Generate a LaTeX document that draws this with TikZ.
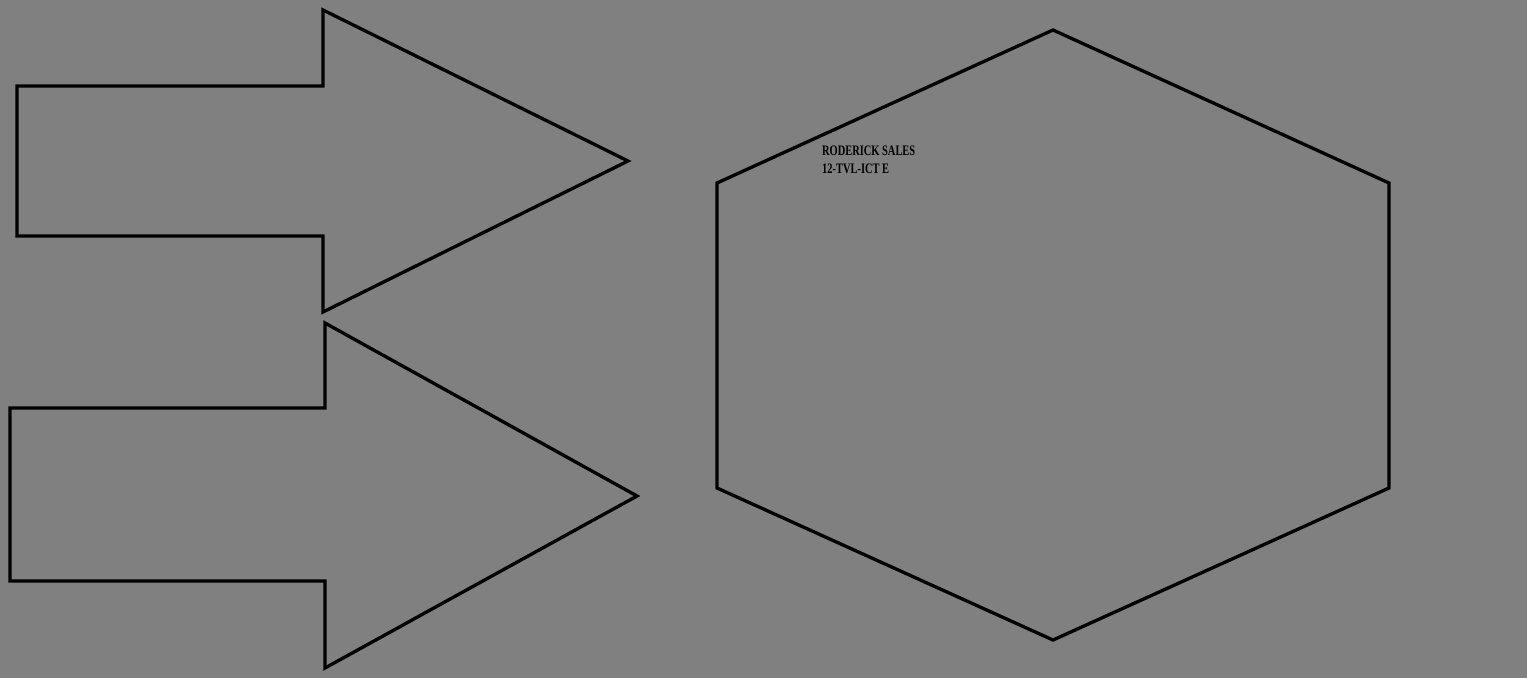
\documentclass[tikz,border=0pt]{standalone}
\usepackage{fontspec}
\setmainfont{Liberation Serif}
\definecolor{bg}{RGB}{128,128,128}
\begin{document}
\begin{tikzpicture}[x=1pt,y=-1pt,
  outline/.style={draw=black,line width=3.3pt,line join=miter},
  lbl/.style={anchor=west,inner sep=0pt,font=\bfseries\fontsize{14.5}{16}\selectfont,xscale=0.72}]
\fill[bg] (0,0) rectangle (1527,678);
\useasboundingbox (0,0) rectangle (1527,678);
\draw[outline] (17,86) -- (323,86) -- (323,10) -- (628,161) -- (323,312) -- (323,236) -- (17,236) -- cycle;
\draw[outline] (10,408) -- (325,408) -- (325,323) -- (637,496) -- (325,668) -- (325,581) -- (10,581) -- cycle;
\draw[outline] (1053,30) -- (1389,183) -- (1389,488) -- (1053,640) -- (717,488) -- (717,183) -- cycle;
\node[lbl] (t1) at (822,151) {RODERICK SALES};
\node[lbl] (t2) at (822,169) {12-TVL-ICT E};
\end{tikzpicture}
\end{document}
